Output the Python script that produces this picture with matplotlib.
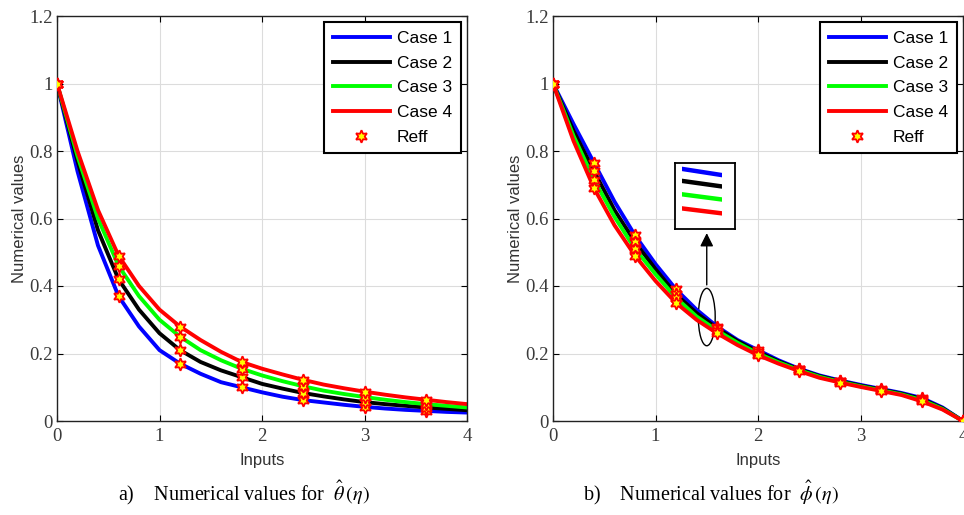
import numpy as np
import matplotlib.pyplot as plt
from matplotlib.patches import Ellipse, Rectangle

plt.rcParams['mathtext.fontset'] = 'stix'

# sample points for the solution curves
x = [0.0, 0.2, 0.4, 0.6, 0.8, 1.0, 1.2, 1.4, 1.6, 1.8, 2.0,
     2.2, 2.4, 2.6, 2.8, 3.0, 3.2, 3.4, 3.6, 3.8, 4.0]

# theta(eta) for the four cases
theta_c1 = [1.0, 0.74, 0.52, 0.37, 0.28, 0.21, 0.17, 0.14, 0.115, 0.10, 0.085,
            0.072, 0.062, 0.055, 0.048, 0.042, 0.037, 0.033, 0.030, 0.027, 0.025]
theta_c2 = [1.0, 0.77, 0.565, 0.42, 0.33, 0.26, 0.21, 0.175, 0.15, 0.13, 0.11,
            0.096, 0.083, 0.073, 0.064, 0.056, 0.050, 0.045, 0.040, 0.036, 0.032]
theta_c3 = [1.0, 0.785, 0.60, 0.46, 0.37, 0.30, 0.25, 0.21, 0.18, 0.155, 0.135,
            0.118, 0.103, 0.090, 0.080, 0.071, 0.063, 0.056, 0.050, 0.045, 0.040]
theta_c4 = [1.0, 0.80, 0.625, 0.49, 0.40, 0.33, 0.28, 0.24, 0.205, 0.175, 0.155,
            0.138, 0.122, 0.108, 0.097, 0.087, 0.078, 0.070, 0.063, 0.056, 0.050]

# phi(eta) for the four cases
phi_c1 = [1.0, 0.88, 0.765, 0.65, 0.55, 0.465, 0.39, 0.33, 0.28, 0.24, 0.21,
          0.18, 0.155, 0.135, 0.12, 0.107, 0.095, 0.083, 0.068, 0.040, 0.0]
phi_c2 = [1.0, 0.86, 0.74, 0.625, 0.53, 0.45, 0.375, 0.32, 0.275, 0.237, 0.205,
          0.177, 0.153, 0.133, 0.118, 0.105, 0.093, 0.081, 0.065, 0.038, 0.0]
phi_c3 = [1.0, 0.845, 0.715, 0.605, 0.51, 0.435, 0.365, 0.31, 0.268, 0.232, 0.20,
          0.174, 0.151, 0.131, 0.116, 0.103, 0.091, 0.079, 0.062, 0.036, 0.0]
phi_c4 = [1.0, 0.83, 0.69, 0.58, 0.49, 0.415, 0.35, 0.30, 0.26, 0.225, 0.195,
          0.17, 0.148, 0.128, 0.114, 0.101, 0.089, 0.077, 0.058, 0.034, 0.0]

# indices of the reference points
theta_ref_idx = [0, 3, 6, 9, 12, 15, 18]
phi_ref_idx = [0, 2, 4, 6, 8, 10, 12, 14, 16, 18, 20]

labels = ['Case 1', 'Case 2', 'Case 3', 'Case 4']
colors = ['#0000ff', '#000000', '#00ff00', '#ff0000']

fig = plt.figure(figsize=(9.64, 5.15), dpi=100)
ax1 = fig.add_axes([57/964, 94/515, 410/964, 405/515])
ax2 = fig.add_axes([553/964, 94/515, 410/964, 405/515])

hexagram = (6, 1, 0)


def draw_panel(ax, curves, ref_idx):
    for ys, lab, c in zip(curves, labels, colors):
        ax.plot(x, ys, color=c, lw=2.8, label=lab)
    first = True
    for ys in curves:
        ax.plot([x[i] for i in ref_idx], [ys[i] for i in ref_idx], ls='none',
                marker=hexagram, ms=9, mfc='#ffff00', mec='#ff0000', mew=1.3,
                label='Reff' if first else None, zorder=5)
        first = False
    ax.set_xlim(0, 4)
    ax.set_ylim(0, 1.2)
    ax.set_xticks([0, 1, 2, 3, 4])
    ax.set_yticks([0, 0.2, 0.4, 0.6, 0.8, 1.0, 1.2])
    ax.set_yticklabels(['0', '0.2', '0.4', '0.6', '0.8', '1', '1.2'])
    ax.grid(True, color='#dcdcdc', lw=0.8)
    ax.tick_params(direction='in', top=True, right=True, length=4,
                   labelsize=13.5, labelcolor='#3a3a3a', pad=3)
    ax.tick_params(axis='x', pad=5)
    for t in ax.get_xticklabels() + ax.get_yticklabels():
        t.set_fontfamily('Liberation Serif')
    for s in ax.spines.values():
        s.set_linewidth(1.0)
        s.set_color('#222222')
    ax.set_xlabel('Inputs', fontsize=12, family='Liberation Sans',
                  color='#333333', labelpad=6)
    ax.set_ylabel('Numerical values', fontsize=12, family='Liberation Sans',
                  color='#333333', labelpad=2)
    leg = ax.legend(loc='upper right', handlelength=3.3,
                    labelspacing=0.55, borderaxespad=0.35, fancybox=False,
                    prop={'family': 'Liberation Sans', 'size': 12.5},
                    edgecolor='black', framealpha=1, borderpad=0.5,
                    handletextpad=0.4)
    leg.get_frame().set_linewidth(1.5)


draw_panel(ax1, [theta_c1, theta_c2, theta_c3, theta_c4], theta_ref_idx)
draw_panel(ax2, [phi_c1, phi_c2, phi_c3, phi_c4], phi_ref_idx)

# zoom marker on the phi panel
ax2.add_patch(Ellipse((1.5, 0.308), 0.165, 0.17, fill=False, color='black', lw=1))
ax2.annotate('', xy=(1.5, 0.565), xytext=(1.5, 0.395),
             arrowprops=dict(arrowstyle='-|>', color='black', lw=1,
                             mutation_scale=20))

axin = ax2.inset_axes([1.19, 0.569, 0.586, 0.195], transform=ax2.transData)
clip = Rectangle((0.12, 0.0), 0.66, 1.0, transform=axin.transAxes)
for ys, c in zip([phi_c1, phi_c2, phi_c3, phi_c4], colors):
    ln, = axin.plot(x, ys, color=c, lw=3.2)
    ln.set_clip_path(clip)
axin.set_xlim(1.488, 1.512)
axin.set_ylim(0.2686, 0.311)
axin.set_xticks([])
axin.set_yticks([])
for s in axin.spines.values():
    s.set_linewidth(1.3)
    s.set_color('black')

fig.text(0.253, 0.043, r'a)    Numerical values for  $\hat{\theta}\,(\eta)$',
         ha='center', va='center', fontsize=14.5, family='Liberation Serif')
fig.text(0.737, 0.043, r'b)    Numerical values for  $\hat{\phi}\,(\eta)$',
         ha='center', va='center', fontsize=14.5, family='Liberation Serif')

fig.savefig('out.png', dpi=100)
